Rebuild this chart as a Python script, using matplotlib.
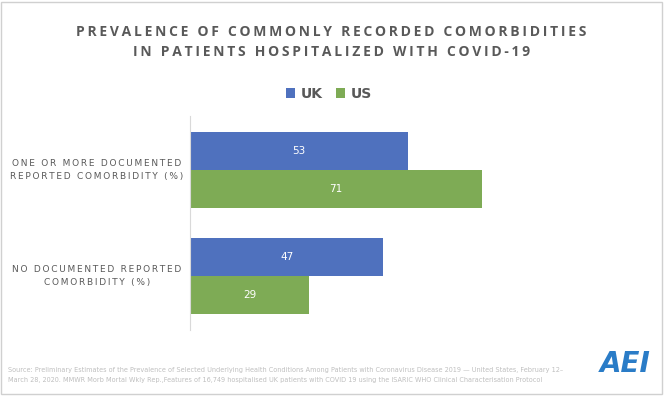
import matplotlib.pyplot as plt
import numpy as np
from matplotlib.patches import Rectangle

# data
categories = ['ONE OR MORE DOCUMENTED\nREPORTED COMORBIDITY (%)',
              'NO DOCUMENTED REPORTED\nCOMORBIDITY (%)']
series_names = ['UK', 'US']
uk_values = [53, 47]
us_values = [71, 29]

blue = '#4f71be'
green = '#7eab55'
grey = '#595959'

W, H = 664, 396


def spaced(s, sep='\u200a'):
    # fake the letter spacing of the original
    return '\n'.join(sep.join(line) for line in s.split('\n'))


fig = plt.figure(figsize=(W / 100, H / 100), dpi=100)
fig.patch.set_facecolor('white')

# axes box in pixels: left 190, right 601, top 116, bottom 330
ax = fig.add_axes([190 / W, 1 - 330 / H, (601 - 190) / W, (330 - 116) / H])

y = np.arange(len(categories))
h = 0.358
b1 = ax.barh(y - h / 2, uk_values, height=h, color=blue, label='UK')
b2 = ax.barh(y + h / 2, us_values, height=h, color=green, label='US')
for bars in (b1, b2):
    ax.bar_label(bars, label_type='center', color='white', fontsize=7.5)

ax.set_xlim(0, 100)
ax.set_ylim(1.509, -0.509)
ax.set_yticks(y)
ax.set_yticklabels([spaced(c, '\u2009') for c in categories], fontsize=6.5,
                   color=grey, ha='center', va='center', linespacing=1.55)
ax.tick_params(axis='y', length=0, pad=67)
ax.set_xticks([])
for side in ['top', 'right', 'bottom']:
    ax.spines[side].set_visible(False)
ax.spines['left'].set_color('#d9d9d9')

# title
fig.text(331 / W, 1 - 32 / H, spaced('PREVALENCE OF COMMONLY RECORDED COMORBIDITIES', '\u2009'),
         ha='center', va='center', fontsize=10, fontweight='bold', color=grey,
         family='Open Sans')
fig.text(332 / W, 1 - 52 / H, spaced('IN PATIENTS HOSPITALIZED WITH COVID-19', '\u2009'),
         ha='center', va='center', fontsize=10, fontweight='bold', color=grey,
         family='Open Sans')

fig.legend(handles=[b1, b2], labels=series_names, loc='center',
           bbox_to_anchor=(329 / W, 1 - 94 / H), ncol=2, frameon=False,
           handlelength=0.65, handleheight=0.65, handletextpad=0.4, columnspacing=1.0,
           prop={'size': 10, 'weight': 'bold'}, labelcolor=grey)

# source
fig.text(8 / W, 1 - 370 / H,
         'Source: Preliminary Estimates of the Prevalence of Selected Underlying Health Conditions Among Patients with Coronavirus Disease 2019 \u2014 United States, February 12\u2013',
         fontsize=4.7, color='#bfbfbf', va='center')
fig.text(8 / W, 1 - 380 / H,
         'March 28, 2020. MMWR Morb Mortal Wkly Rep.,Features of 16,749 hospitalised UK patients with COVID 19 using the ISARIC WHO Clinical Characterisation Protocol',
         fontsize=4.7, color='#bfbfbf', va='center')

# logo
fig.text(625 / W, 1 - 364 / H, 'AEI', fontsize=20, fontweight='bold', fontstyle='italic',
         color='#2a7cc7', ha='center', va='center')

fig.patches.append(Rectangle((0.5 / W, 2.5 / H), 1 - 3 / W, 1 - 4 / H, transform=fig.transFigure,
                             fill=False, edgecolor='#d0d0d0', linewidth=1))

fig.savefig('out.png', dpi=100)
